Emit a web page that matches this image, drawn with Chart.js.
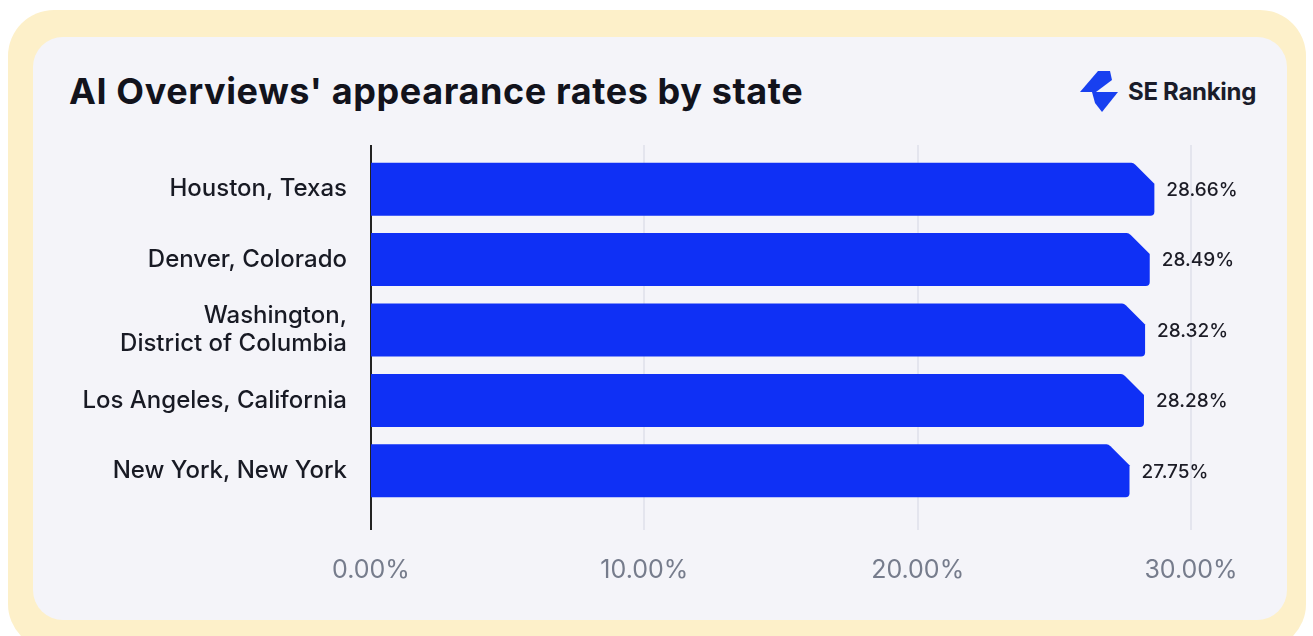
<!DOCTYPE html>
<html>
<head>
<meta charset="utf-8">
<script src="https://cdn.jsdelivr.net/npm/chart.js@4"></script>
<style>
  html, body { margin: 0; padding: 0; background: #ffffff; }
  body { width: 1313px; height: 636px; position: relative; overflow: hidden; font-family: Inter, "Noto Sans", sans-serif; }
  .frame { position: absolute; left: 8px; top: 10px; width: 1298px; height: 640px; background: #fdf0c9; border-radius: 46px; }
  .panel { position: absolute; left: 33px; top: 37px; width: 1254px; height: 583px; background: #f4f4f9; border-radius: 30px; }
  .title { position: absolute; left: 69px; top: 69px; font-size: 36px; font-weight: 700; color: #12131c; letter-spacing: 0.6px; line-height: 44px; }
  .logo { position: absolute; left: 1079px; top: 70px; display: flex; align-items: center; }
  .logo span { margin-left: 9px; font-size: 24px; font-weight: 700; color: #1a1c2a; letter-spacing: -0.3px; }
  canvas { position: absolute; left: 0; top: 0; }
</style>
</head>
<body>
<div class="frame"></div>
<div class="panel"></div>
<div class="title">AI Overviews' appearance rates by state</div>
<div class="logo">
  <svg width="40" height="43" viewBox="0 0 40 43">
    <polygon points="19,1 31,1 33,10 17,22 1,22" fill="#1840f0"/>
    <polygon points="13,22 39,22 23,42 16,33" fill="#1840f0"/>
  </svg>
  <span>SE Ranking</span>
</div>
<canvas id="chart" width="1313" height="636"></canvas>
<script>
// data
const cities = [['Houston, Texas'], ['Denver, Colorado'], ['Washington,', 'District of Columbia'], ['Los Angeles, California'], ['New York, New York']];
const rates = [28.66, 28.49, 28.32, 28.28, 27.75];
const xTicks = [0, 10, 20, 30];

const barBlue = '#0f30f5';

// grid lines + axis line, stretched a bit above and below the plot area
const gridPlugin = {
  id: 'gridLines',
  beforeDatasetsDraw(chart) {
    const { ctx, chartArea, scales } = chart;
    const top = chartArea.top - 9, bottom = chartArea.bottom + 24;
    ctx.save();
    xTicks.forEach((t) => {
      const x = Math.round(scales.x.getPixelForValue(t));
      ctx.beginPath();
      if (t === 0) {
        ctx.strokeStyle = '#222222';
        ctx.lineWidth = 2;
      } else {
        ctx.strokeStyle = '#dfe0ea';
        ctx.lineWidth = 1.5;
      }
      ctx.moveTo(x, top);
      ctx.lineTo(x, bottom);
      ctx.stroke();
    });
    ctx.restore();
  }
};

// bars with the clipped top-right corner, plus value labels
const barPlugin = {
  id: 'cutBars',
  afterDatasetsDraw(chart) {
    const { ctx } = chart;
    const meta = chart.getDatasetMeta(0);
    ctx.save();
    meta.data.forEach((bar, i) => {
      const x0 = bar.base, x1 = bar.x;
      const y0 = bar.y - bar.height / 2, y1 = bar.y + bar.height / 2;
      const cut = 21, r = 4;
      ctx.beginPath();
      ctx.moveTo(x0, y0);
      ctx.lineTo(x1 - cut - 2, y0);
      ctx.quadraticCurveTo(x1 - cut, y0, x1 - cut + 2, y0 + 2);
      ctx.lineTo(x1, y0 + cut);
      ctx.lineTo(x1, y1 - r);
      ctx.quadraticCurveTo(x1, y1, x1 - r, y1);
      ctx.lineTo(x0, y1);
      ctx.closePath();
      ctx.fillStyle = barBlue;
      ctx.fill();

      ctx.fillStyle = '#1c1c26';
      ctx.font = '500 19px Inter, "Noto Sans", sans-serif';
      ctx.textAlign = 'left';
      ctx.textBaseline = 'middle';
      ctx.fillText(rates[i].toFixed(2) + '%', x1 + 12, bar.y + 1);
    });
    ctx.restore();
  }
};

new Chart(document.getElementById('chart'), {
  type: 'bar',
  data: {
    labels: cities,
    datasets: [{
      data: rates,
      backgroundColor: 'rgba(0,0,0,0)',
      barThickness: 53
    }]
  },
  options: {
    indexAxis: 'y',
    responsive: false,
    animation: false,
    layout: { padding: { top: 154, right: 122, left: 0, bottom: 0 } },
    plugins: { legend: { display: false }, tooltip: { enabled: false } },
    scales: {
      x: {
        min: 0,
        max: 30,
        afterBuildTicks: (scale) => { scale.ticks = xTicks.map((v) => ({ value: v })); },
        afterFit: (scale) => { scale.height = 130; },
        grid: { display: false, drawTicks: false },
        border: { display: false },
        ticks: {
          padding: 49,
          color: '#767c8c',
          font: { family: 'Inter, "Noto Sans", sans-serif', size: 25, weight: 400 },
          callback: (v) => v.toFixed(2) + '%'
        }
      },
      y: {
        afterFit: (scale) => { scale.width = 371; },
        grid: { display: false, drawTicks: false },
        border: { display: false },
        ticks: {
          padding: 24,
          color: '#181a24',
          font: { family: 'Inter, "Noto Sans", sans-serif', size: 24, weight: 500, lineHeight: 1.15 }
        }
      }
    }
  },
  plugins: [gridPlugin, barPlugin]
});
</script>
</body>
</html>
